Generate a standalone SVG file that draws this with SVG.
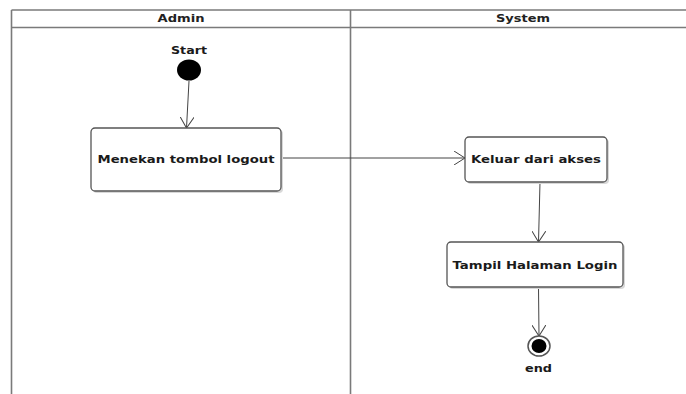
<svg xmlns="http://www.w3.org/2000/svg" width="686" height="394" viewBox="0 0 686 394">
  <style>
    .lane { fill: none; stroke: #7a7a7a; stroke-width: 1.6; }
    .hdr { font-family: "DejaVu Sans", "Liberation Sans", sans-serif; font-weight: bold; font-size: 10px; fill: #222; text-anchor: middle; }
    .lbl { font-family: "DejaVu Sans", "Liberation Sans", sans-serif; font-weight: bold; font-size: 10.5px; fill: #1a1a1a; text-anchor: middle; }
    .act { fill: #ffffff; stroke: #555555; stroke-width: 1.3; }
    .shadow { fill: #d8d8d8; }
    .edge { fill: none; stroke: #444444; stroke-width: 1; marker-end: url(#open); }
  </style>
  <defs>
    <marker id="open" viewBox="0 0 12 14" refX="11" refY="7" markerWidth="12" markerHeight="14" markerUnits="userSpaceOnUse" orient="auto">
      <path d="M0,0 L11,7 L0,14" fill="none" stroke="#444444" stroke-width="1"/>
    </marker>
  </defs>
  <rect width="686" height="394" fill="#ffffff"/>

  <!-- swimlanes -->
  <g id="lanes">
    <line class="lane" x1="11.5" y1="10" x2="686" y2="10"/>
    <line class="lane" x1="11.5" y1="27.5" x2="686" y2="27.5"/>
    <line class="lane" x1="11.5" y1="10" x2="11.5" y2="394"/>
    <line class="lane" x1="350.5" y1="10" x2="350.5" y2="394"/>
    <text class="hdr" x="181" y="21.5" textLength="47" lengthAdjust="spacingAndGlyphs">Admin</text>
    <text class="hdr" x="523" y="21.5" textLength="54" lengthAdjust="spacingAndGlyphs">System</text>
  </g>

  <!-- connectors -->
  <g id="connectors">
    <line class="edge" x1="189" y1="81" x2="186.5" y2="128"/>
    <line class="edge" x1="281" y1="158" x2="465" y2="158"/>
    <line class="edge" x1="540" y1="182" x2="538.5" y2="242"/>
    <line class="edge" x1="538.5" y1="287" x2="539" y2="336"/>
  </g>

  <g id="start">
    <text class="lbl" x="189" y="54" textLength="36" lengthAdjust="spacingAndGlyphs">Start</text>
    <ellipse cx="189" cy="70" rx="12" ry="10.5" fill="#000000"/>
  </g>

  <g id="menekan">
    <rect class="shadow" x="93" y="130" width="190" height="63" rx="4"/>
    <rect class="act" x="91" y="128" width="190" height="63" rx="4"/>
    <text class="lbl" x="186" y="163" textLength="177" lengthAdjust="spacingAndGlyphs">Menekan tombol logout</text>
  </g>

  <g id="keluar">
    <rect class="shadow" x="467" y="139" width="142" height="45" rx="4"/>
    <rect class="act" x="465" y="137" width="142" height="45" rx="4"/>
    <text class="lbl" x="536" y="163" textLength="130" lengthAdjust="spacingAndGlyphs">Keluar dari akses</text>
  </g>

  <g id="tampil">
    <rect class="shadow" x="449" y="244" width="176" height="45" rx="4"/>
    <rect class="act" x="447" y="242" width="176" height="45" rx="4"/>
    <text class="lbl" x="535" y="269" textLength="165" lengthAdjust="spacingAndGlyphs">Tampil Halaman Login</text>
  </g>

  <g id="end">
    <ellipse cx="539" cy="346" rx="11" ry="10" fill="#ffffff" stroke="#555555" stroke-width="1.5"/>
    <ellipse cx="539" cy="346" rx="7.5" ry="7" fill="#000000"/>
    <text class="lbl" x="538.5" y="372" textLength="27" lengthAdjust="spacingAndGlyphs">end</text>
  </g>
</svg>
